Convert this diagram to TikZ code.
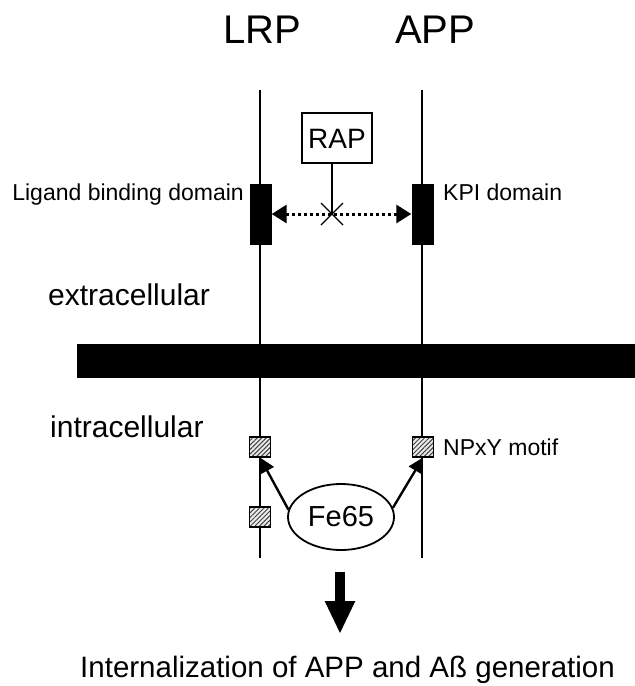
\documentclass[tikz,border=0pt]{standalone}
\usepackage{fontspec}
\setmainfont{Liberation Sans}
\usetikzlibrary{arrows.meta,shapes.geometric,patterns.meta,calc}
\newcommand{\fsz}[1]{\fontsize{#1}{#1}\selectfont}
\begin{document}
\begin{tikzpicture}[x=1pt,y=-1pt,
  lbl/.style={inner sep=0pt,anchor=base west},
  protline/.style={line width=2.9pt},
  domainbox/.style={fill=black,draw=none,minimum width=22pt,minimum height=61pt,inner sep=0pt},
  motif/.style={draw=black,line width=1.1pt,minimum width=21pt,minimum height=20pt,inner sep=0pt,
    preaction={fill=black!8},pattern={Lines[angle=45,distance=3.2pt,line width=1pt]},pattern color=black!75},
  bindarrow/.style={line width=2.4pt,-{Triangle[length=15pt,width=15pt]}},
  dotarrow/.style={line width=3pt,dash pattern=on 3pt off 3pt,{Triangle[length=15pt,width=18pt]}-{Triangle[length=15pt,width=18pt]}}
]
\useasboundingbox (0,0) rectangle (635,686);
% titles
\node[lbl] (lrplbl) at (223,43) {\fsz{40}LRP};
\node[lbl] (applbl) at (395,43) {\fsz{40}APP};
% protein lines
\coordinate (lrptop) at (260,90);
\coordinate (lrpbot) at (260,558);
\coordinate (apptop) at (422,90);
\coordinate (appbot) at (422,558);
\draw[protline] (lrptop) -- (lrpbot);
\draw[protline] (apptop) -- (appbot);
% membrane
\fill (77,344) rectangle (635,378);
% domains
\node[domainbox] (lbd) at (260.5,214) {};
\node[domainbox] (kpi) at (422.5,214) {};
\node[lbl,anchor=base east] (lbdlbl) at (244,200) {\fsz{23}Ligand binding domain};
\node[lbl] (kpilbl) at (443,200) {\fsz{23}KPI domain};
% RAP
\node[draw,line width=1.3pt,minimum width=70pt,minimum height=50pt,inner sep=0pt] (rap) at (337,138) {};
\node[inner sep=0pt,anchor=base] (raptxt) at (337,148) {\fsz{28}RAP};
\coordinate (xc) at (332,214);
\coordinate (raplinetop) at (332,163);
\draw[dotarrow] (lbd.east) -- (kpi.west);
\draw[line width=1.1pt] (raplinetop) -- (xc);
\draw[line width=1.1pt] ($(xc)+(-11,-11)$) -- ($(xc)+(11,11)$);
\draw[line width=1.1pt] ($(xc)+(-11,11)$) -- ($(xc)+(11,-11)$);
% regions
\node[lbl] (extra) at (48,305) {\fsz{30}extracellular};
\node[lbl] (intra) at (50,437) {\fsz{30}intracellular};
% motifs
\node[motif] (m1) at (260,447) {};
\node[motif] (m2) at (260,517) {};
\node[motif] (m3) at (423,447) {};
\node[lbl] (npxy) at (443,455) {\fsz{23}NPxY motif};
% Fe65
\node[draw,ellipse,line width=1.8pt,fill=white,minimum width=106pt,minimum height=66pt,inner sep=0pt] (fe) at (341,517) {};
\node[inner sep=0pt] (fetxt) at (341,517) {\fsz{29}Fe65};
\draw[bindarrow] (fe.172) -- (m1.south);
\draw[bindarrow] (fe.10) -- (m3.south);
% big arrow
\coordinate (bigtop) at (340,572);
\coordinate (bigbot) at (340,634);
\draw[line width=9.5pt,-{Triangle[length=33pt,width=28pt]}] (bigtop) -- (bigbot);
% bottom text
\node[lbl] (result) at (80,677) {\fsz{29.5}Internalization of APP and Aß generation};
\end{tikzpicture}
\end{document}
